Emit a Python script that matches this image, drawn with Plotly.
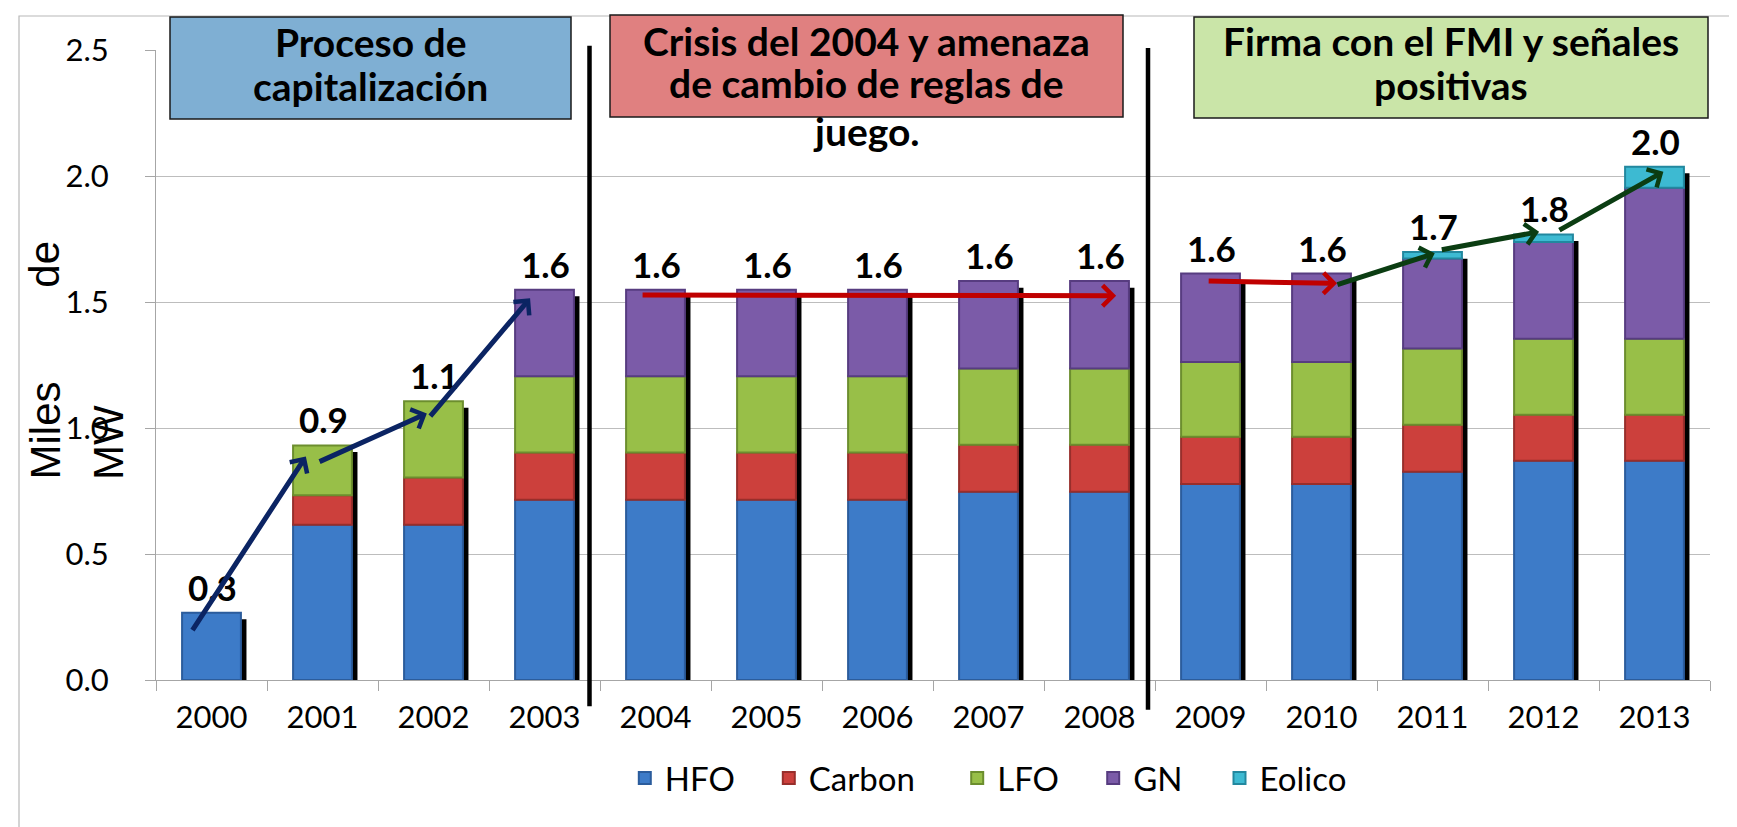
import numpy as np
import plotly.graph_objects as go

# ---------------- data ----------------
years = ["2000", "2001", "2002", "2003", "2004", "2005", "2006",
         "2007", "2008", "2009", "2010", "2011", "2012", "2013"]
hfo = [0.267, 0.616, 0.616, 0.715, 0.715, 0.715, 0.715, 0.747, 0.747, 0.778, 0.778, 0.826, 0.870, 0.870]
carbon = [None, 0.117, 0.188, 0.188, 0.188, 0.188, 0.188, 0.187, 0.187, 0.187, 0.187, 0.187, 0.183, 0.183]
lfo = [None, 0.198, 0.302, 0.302, 0.302, 0.302, 0.302, 0.302, 0.302, 0.297, 0.297, 0.302, 0.301, 0.301]
gn = [None, None, None, 0.344, 0.344, 0.344, 0.344, 0.347, 0.347, 0.351, 0.351, 0.358, 0.384, 0.599]
eolico = [None, None, None, None, None, None, None, None, None, None, None, 0.025, 0.030, 0.084]
total_labels = ["0.3", "0.9", "1.1", "1.6", "1.6", "1.6", "1.6", "1.6", "1.6", "1.6", "1.6", "1.7", "1.8", "2.0"]

series_names = ["HFO", "Carbon", "LFO", "GN", "Eolico"]
series_values = [hfo, carbon, lfo, gn, eolico]
series_colors = ["#3D7BC8", "#CC403C", "#98BF48", "#7B5BA8", "#3DBAD2"]
series_edges = ["#2B5C9C", "#982E2B", "#6C8E2E", "#573C80", "#22889F"]

y_tick_vals = [0.0, 0.5, 1.0, 1.5, 2.0, 2.5]

panel_titles = [
    ["Proceso de", "capitalización"],
    ["Crisis del 2004 y amenaza", "de cambio de reglas de", "juego."],
    ["Firma con el FMI y señales", "positivas"],
]
panel_fills = ["#7FAFD3", "#E08080", "#CAE5A8"]

# trend arrows: (tail category index, tail value, head category index, head value, colour)
trend_arrows = [
    (-0.18, 0.192, 0.85, 0.887, "#0B2463"),
    (0.96, 0.864, 1.94, 1.058, "#0B2463"),
    (1.96, 1.041, 2.87, 1.515, "#0B2463"),
    (3.87, 1.528, 8.15, 1.525, "#C00000"),
    (8.97, 1.583, 10.14, 1.574, "#C00000"),
    (10.13, 1.567, 11.02, 1.693, "#0B3D12"),
    (11.07, 1.706, 11.96, 1.779, "#0B3D12"),
    (12.13, 1.782, 13.08, 2.017, "#0B3D12"),
]

# ---------------- layout geometry ----------------
W, H = 1737, 827
ML, MR, MT, MB = 148, 35, 42, 155
PW, PH = W - ML - MR, H - MT - MB
PLOT_BOTTOM = H - MB


def px_x(px):
    return (px - ML) / PW


def px_y(py):
    return (PLOT_BOTTOM - py) / PH


FONT = "Lato"
BAR_W = 0.53

fig = go.Figure()

vals = np.array([[v if v is not None else 0.0 for v in s] for s in series_values])
totals = vals.sum(axis=0)

# drop shadow behind each column
fig.add_trace(go.Bar(
    x=years, y=totals - 0.02, base=-0.006,
    width=BAR_W, offset=-BAR_W / 2 + 0.05,
    marker=dict(color="#000000", line=dict(width=0)),
    showlegend=False, hoverinfo="skip",
))

# stacked series
legend_ids = ["legend", "legend2", "legend3", "legend4", "legend5"]
cum = np.zeros(len(years))
for name, s, col, edge, lg in zip(series_names, series_values, series_colors, series_edges, legend_ids):
    base = cum.copy()
    fig.add_trace(go.Bar(
        x=years, y=s, base=base, name=name,
        width=BAR_W, offset=-BAR_W / 2,
        marker=dict(color=col, line=dict(color=edge, width=2)),
        legend=lg,
    ))
    cum = cum + np.array([v if v is not None else 0.0 for v in s])

annotations = []

# value labels above columns
for i, (t, lab) in enumerate(zip(totals, total_labels)):
    annotations.append(dict(
        x=i, y=t, xref="x", yref="y", text=lab, showarrow=False,
        yanchor="middle", yshift=26, xshift=1,
        font=dict(family=FONT, size=35, color="#000000", weight="bold"),
    ))

# trend arrows
for (ta, tv, ha, hv, col) in trend_arrows:
    annotations.append(dict(
        x=ha, y=hv, ax=ta, ay=tv, xref="x", yref="y", axref="x", ayref="y",
        text="", showarrow=True, arrowhead=4, arrowsize=0.8, arrowwidth=5,
        arrowcolor=col, standoff=0, startstandoff=0,
    ))

# panel title boxes
box_px = [(162, 9, 563, 111), (602, 7, 1115, 109), (1186, 9, 1700, 110)]
line_centers = [[34, 77.5], [33, 75, 123], [33, 77]]
shapes = []
for (x0, y0, x1, y1), fill, lines, cys in zip(box_px, panel_fills, panel_titles, line_centers):
    shapes.append(dict(
        type="rect", xref="paper", yref="paper",
        x0=px_x(x0), x1=px_x(x1), y0=px_y(y1), y1=px_y(y0),
        fillcolor=fill, line=dict(color="#1A1A1A", width=1.5), layer="above",
    ))
    cx = (x0 + x1) / 2
    for txt, cy in zip(lines, cys):
        annotations.append(dict(
            x=px_x(cx), y=px_y(cy), xref="paper", yref="paper", text=txt,
            showarrow=False, xanchor="center", yanchor="middle",
            font=dict(family=FONT, size=39, color="#000000", weight="bold"),
        ))

# vertical separators between periods
for (xp, ytop, ybot) in [(581.5, 37.7, 698.3), (1140.0, 40.0, 701.7)]:
    shapes.append(dict(
        type="line", xref="paper", yref="paper",
        x0=px_x(xp), x1=px_x(xp), y0=px_y(ybot), y1=px_y(ytop),
        line=dict(color="#000000", width=4.5), layer="above",
    ))

# outer chart frame
shapes.append(dict(
    type="rect", xref="paper", yref="paper",
    x0=px_x(11), x1=px_x(1728), y0=px_y(840), y1=px_y(8),
    line=dict(color="#B8B8B8", width=1.2), fillcolor="rgba(0,0,0,0)", layer="below",
))

# y-axis title (rotated, wrapped as in the original)
for txt, cx, cy in [("Miles", 37, 422.5), ("de", 37, 256.7), ("MW", 100, 435)]:
    annotations.append(dict(
        x=px_x(cx), y=px_y(cy), xref="paper", yref="paper", text=txt,
        textangle=-90, showarrow=False, xanchor="center", yanchor="middle",
        font=dict(family="Liberation Sans", size=42, color="#000000"),
    ))

# legends (one per series, to keep the original spacing)
legend_symbol_centers = [636.8, 780.8, 969.2, 1105.2, 1231.5]
legend_cfg = {}
for lg, sc in zip(legend_ids, legend_symbol_centers):
    legend_cfg[lg] = dict(
        x=px_x(sc - 20), xanchor="left", y=px_y(770), yanchor="middle",
        orientation="h", bgcolor="rgba(0,0,0,0)", borderwidth=0,
        font=dict(family=FONT, size=33, color="#000000"),
    )

fig.update_layout(
    width=W, height=H,
    margin=dict(l=ML, r=MR, t=MT, b=MB, pad=0),
    paper_bgcolor="#FFFFFF", plot_bgcolor="#FFFFFF",
    barmode="overlay",
    showlegend=True,
    annotations=annotations,
    shapes=shapes,
    xaxis=dict(
        type="category", categoryorder="array", categoryarray=years,
        range=[-0.5, len(years) - 0.5],
        showline=True, linecolor="#A6A6A6", linewidth=1.2,
        ticks="outside", tickson="boundaries", ticklen=10, tickcolor="#A6A6A6", tickwidth=1.2,
        showgrid=False, zeroline=False,
        tickfont=dict(family=FONT, size=31, color="#000000"),
        ticklabelstandoff=10,
    ),
    yaxis=dict(
        range=[0, 2.5], tickvals=y_tick_vals, tickformat=".1f",
        showline=True, linecolor="#A6A6A6", linewidth=1.2,
        ticks="outside", ticklen=10, tickcolor="#A6A6A6", tickwidth=1.2,
        showgrid=True, gridcolor="#BDBDBD", gridwidth=1.2, zeroline=False,
        tickfont=dict(family=FONT, size=31, color="#000000"),
        ticklabelstandoff=30,
    ),
    **legend_cfg,
)

fig.write_html("out.html")
